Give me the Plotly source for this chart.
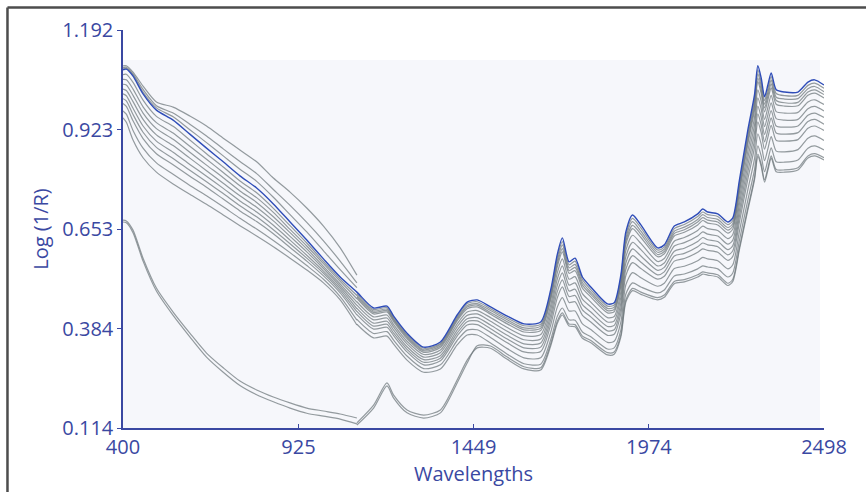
import plotly.graph_objects as go

# ---------------- data ----------------
VIS_NM = [400, 410, 430, 460, 500, 550, 600, 650, 700, 750, 800, 850, 900, 950, 1000, 1050, 1100]
NIR_NM = [1100, 1150, 1190, 1210, 1250, 1300, 1350, 1400, 1430, 1460, 1500, 1550, 1600, 1650, 1680,
          1700, 1715, 1735, 1753, 1775, 1800, 1850, 1870, 1890, 1905, 1925, 1950, 2000, 2020, 2050,
          2080, 2120, 2135, 2150, 2180, 2210, 2225, 2245, 2270, 2290, 2300, 2310, 2320, 2330, 2340,
          2355, 2380, 2420, 2450, 2470, 2498]

X_TICKS = [400, 925, 1449, 1974, 2498]
X_TICK_LABELS = ["400", "925", "1449", "1974", "2498"]
Y_TICKS = [0.114, 0.3835, 0.653, 0.9225, 1.192]
Y_TICK_LABELS = ["0.114", "0.384", "0.653", "0.923", "1.192"]

# highlighted (blue) spectrum
BLUE_VIS = [1.084, 1.086, 1.067, 1.019, 0.975, 0.948, 0.910, 0.872, 0.835, 0.797, 0.764, 0.721, 0.672,
            0.623, 0.572, 0.523, 0.482]
BLUE_NIR = [0.482, 0.439, 0.444, 0.417, 0.371, 0.333, 0.347, 0.420, 0.455, 0.461, 0.442, 0.417, 0.396,
            0.401, 0.488, 0.585, 0.629, 0.564, 0.574, 0.523, 0.496, 0.450, 0.453, 0.528, 0.645, 0.691,
            0.664, 0.602, 0.610, 0.661, 0.672, 0.694, 0.707, 0.699, 0.694, 0.672, 0.683, 0.786, 0.921,
            1.016, 1.095, 1.062, 1.011, 1.043, 1.076, 1.030, 1.024, 1.024, 1.051, 1.057, 1.043]

# visible-range spectra (400-1100 nm)
VIS_A = [1.095, 1.095, 1.078, 1.040, 0.997, 0.983, 0.959, 0.932, 0.899, 0.867, 0.835, 0.791, 0.753, 0.710, 0.661, 0.602, 0.528]
VIS_B = [1.090, 1.091, 1.073, 1.031, 0.987, 0.967, 0.937, 0.905, 0.870, 0.836, 0.803, 0.760, 0.717, 0.671, 0.621, 0.566, 0.507]
VIS_C = [1.087, 1.088, 1.070, 1.024, 0.981, 0.957, 0.922, 0.887, 0.851, 0.815, 0.782, 0.739, 0.692, 0.645, 0.594, 0.543, 0.494]
VIS_D = [1.071, 1.072, 1.050, 1.002, 0.958, 0.931, 0.894, 0.857, 0.821, 0.783, 0.751, 0.709, 0.662, 0.615, 0.565, 0.517, 0.473]
VIS_E = [1.058, 1.057, 1.032, 0.984, 0.941, 0.913, 0.877, 0.842, 0.806, 0.770, 0.738, 0.698, 0.652, 0.607, 0.559, 0.511, 0.464]
VIS_F = [1.045, 1.043, 1.015, 0.967, 0.925, 0.896, 0.861, 0.826, 0.792, 0.756, 0.725, 0.686, 0.643, 0.599, 0.552, 0.504, 0.455]
VIS_G = [1.032, 1.028, 0.998, 0.950, 0.908, 0.879, 0.845, 0.811, 0.777, 0.743, 0.712, 0.675, 0.633, 0.591, 0.546, 0.498, 0.446]
VIS_H = [1.019, 1.014, 0.980, 0.932, 0.891, 0.861, 0.828, 0.796, 0.763, 0.729, 0.699, 0.663, 0.623, 0.582, 0.539, 0.492, 0.437]
VIS_I = [1.006, 1.000, 0.963, 0.915, 0.874, 0.844, 0.812, 0.781, 0.749, 0.716, 0.686, 0.651, 0.613, 0.574, 0.533, 0.486, 0.429]
VIS_J = [0.993, 0.985, 0.946, 0.898, 0.857, 0.827, 0.796, 0.766, 0.734, 0.702, 0.673, 0.640, 0.603, 0.566, 0.526, 0.480, 0.420]
VIS_K = [0.973, 0.964, 0.920, 0.872, 0.832, 0.801, 0.771, 0.743, 0.713, 0.682, 0.653, 0.622, 0.589, 0.554, 0.517, 0.470, 0.406]
VIS_L = [0.954, 0.942, 0.894, 0.846, 0.807, 0.775, 0.747, 0.720, 0.691, 0.662, 0.634, 0.605, 0.574, 0.542, 0.507, 0.461, 0.393]
VIS_LOW1 = [0.677, 0.675, 0.650, 0.574, 0.493, 0.428, 0.371, 0.317, 0.277, 0.241, 0.217, 0.198, 0.182, 0.168, 0.160, 0.152, 0.141]
VIS_LOW2 = [0.672, 0.670, 0.643, 0.566, 0.485, 0.419, 0.361, 0.306, 0.265, 0.229, 0.204, 0.185, 0.168, 0.154, 0.146, 0.138, 0.125]

# near-infrared spectra (1100-2498 nm)
NIR_G1 = [0.478, 0.435, 0.440, 0.413, 0.367, 0.330, 0.343, 0.416, 0.451, 0.456, 0.437, 0.412, 0.391, 0.395, 0.481, 0.577, 0.619,
          0.556, 0.566, 0.516, 0.489, 0.444, 0.447, 0.521, 0.637, 0.682, 0.656, 0.596, 0.604, 0.654, 0.665, 0.687, 0.699, 0.692,
          0.687, 0.665, 0.676, 0.778, 0.911, 1.006, 1.084, 1.051, 1.001, 1.033, 1.066, 1.020, 1.014, 1.015, 1.042, 1.048, 1.034]
NIR_G2 = [0.473, 0.431, 0.436, 0.409, 0.364, 0.326, 0.340, 0.412, 0.446, 0.451, 0.432, 0.407, 0.385, 0.390, 0.474, 0.568, 0.610,
          0.548, 0.557, 0.508, 0.482, 0.438, 0.441, 0.513, 0.628, 0.673, 0.647, 0.590, 0.598, 0.647, 0.658, 0.679, 0.692, 0.684,
          0.679, 0.657, 0.668, 0.770, 0.902, 0.996, 1.073, 1.041, 0.991, 1.023, 1.056, 1.010, 1.005, 1.006, 1.033, 1.039, 1.025]
NIR_G3 = [0.469, 0.427, 0.432, 0.406, 0.360, 0.323, 0.336, 0.408, 0.442, 0.447, 0.427, 0.402, 0.380, 0.384, 0.468, 0.560, 0.600,
          0.540, 0.549, 0.501, 0.476, 0.432, 0.435, 0.506, 0.620, 0.663, 0.639, 0.584, 0.592, 0.641, 0.651, 0.672, 0.684, 0.677,
          0.672, 0.650, 0.661, 0.762, 0.892, 0.986, 1.062, 1.030, 0.981, 1.013, 1.046, 1.001, 0.995, 0.996, 1.024, 1.030, 1.017]
NIR_G4 = [0.465, 0.423, 0.428, 0.402, 0.356, 0.319, 0.332, 0.404, 0.437, 0.442, 0.422, 0.396, 0.374, 0.378, 0.461, 0.551, 0.591,
          0.533, 0.540, 0.493, 0.469, 0.426, 0.429, 0.498, 0.611, 0.654, 0.630, 0.578, 0.586, 0.634, 0.644, 0.664, 0.676, 0.669,
          0.664, 0.642, 0.653, 0.753, 0.883, 0.975, 1.052, 1.020, 0.970, 1.002, 1.035, 0.991, 0.986, 0.987, 1.015, 1.021, 1.008]
NIR_G5 = [0.456, 0.415, 0.420, 0.394, 0.349, 0.313, 0.325, 0.396, 0.428, 0.432, 0.413, 0.386, 0.364, 0.367, 0.447, 0.535, 0.572,
          0.517, 0.524, 0.478, 0.455, 0.413, 0.416, 0.483, 0.595, 0.636, 0.614, 0.565, 0.573, 0.620, 0.630, 0.649, 0.661, 0.654,
          0.649, 0.627, 0.638, 0.737, 0.864, 0.955, 1.030, 0.999, 0.950, 0.982, 1.015, 0.971, 0.967, 0.969, 0.997, 1.003, 0.990]
NIR_G6 = [0.447, 0.407, 0.412, 0.387, 0.342, 0.306, 0.318, 0.388, 0.419, 0.423, 0.403, 0.376, 0.353, 0.355, 0.434, 0.518, 0.553,
          0.501, 0.507, 0.463, 0.442, 0.401, 0.404, 0.468, 0.578, 0.617, 0.597, 0.553, 0.561, 0.607, 0.616, 0.634, 0.645, 0.639,
          0.634, 0.612, 0.623, 0.721, 0.845, 0.935, 1.008, 0.978, 0.930, 0.962, 0.995, 0.952, 0.948, 0.950, 0.979, 0.985, 0.973]
NIR_G7 = [0.438, 0.398, 0.403, 0.379, 0.334, 0.299, 0.310, 0.379, 0.410, 0.413, 0.393, 0.365, 0.342, 0.344, 0.420, 0.501, 0.534,
          0.485, 0.490, 0.448, 0.428, 0.389, 0.392, 0.453, 0.561, 0.599, 0.580, 0.541, 0.549, 0.593, 0.601, 0.619, 0.630, 0.624,
          0.619, 0.597, 0.608, 0.704, 0.826, 0.914, 0.986, 0.956, 0.909, 0.941, 0.974, 0.932, 0.929, 0.932, 0.961, 0.967, 0.955]
NIR_G8 = [0.430, 0.390, 0.395, 0.371, 0.327, 0.292, 0.303, 0.371, 0.402, 0.404, 0.383, 0.355, 0.331, 0.333, 0.407, 0.484, 0.515,
          0.470, 0.473, 0.434, 0.415, 0.377, 0.380, 0.439, 0.544, 0.581, 0.563, 0.529, 0.537, 0.580, 0.587, 0.605, 0.615, 0.610,
          0.605, 0.583, 0.594, 0.688, 0.807, 0.894, 0.965, 0.935, 0.889, 0.921, 0.954, 0.913, 0.910, 0.914, 0.944, 0.950, 0.937]
NIR_G9 = [0.421, 0.382, 0.387, 0.364, 0.320, 0.285, 0.296, 0.363, 0.393, 0.394, 0.373, 0.345, 0.320, 0.321, 0.393, 0.467, 0.496,
          0.454, 0.456, 0.419, 0.401, 0.365, 0.368, 0.424, 0.527, 0.562, 0.546, 0.517, 0.525, 0.566, 0.573, 0.590, 0.599, 0.595,
          0.590, 0.568, 0.579, 0.672, 0.788, 0.874, 0.943, 0.914, 0.869, 0.901, 0.934, 0.893, 0.891, 0.895, 0.926, 0.932, 0.920]
NIR_G10 = [0.408, 0.370, 0.375, 0.352, 0.309, 0.275, 0.285, 0.351, 0.379, 0.380, 0.359, 0.329, 0.304, 0.304, 0.373, 0.442, 0.467,
           0.431, 0.431, 0.396, 0.381, 0.346, 0.349, 0.401, 0.502, 0.535, 0.521, 0.498, 0.506, 0.546, 0.552, 0.567, 0.576, 0.572,
           0.567, 0.545, 0.556, 0.647, 0.759, 0.843, 0.911, 0.883, 0.838, 0.870, 0.903, 0.864, 0.862, 0.868, 0.899, 0.905, 0.893]
NIR_G11 = [0.395, 0.358, 0.363, 0.341, 0.298, 0.265, 0.274, 0.339, 0.366, 0.366, 0.344, 0.314, 0.288, 0.287, 0.353, 0.417, 0.439,
           0.407, 0.406, 0.374, 0.361, 0.328, 0.331, 0.379, 0.477, 0.507, 0.496, 0.480, 0.488, 0.526, 0.531, 0.545, 0.553, 0.550,
           0.545, 0.523, 0.534, 0.623, 0.731, 0.813, 0.878, 0.851, 0.808, 0.840, 0.873, 0.835, 0.834, 0.840, 0.872, 0.878, 0.867]
NIR_LOW1 = [0.128, 0.176, 0.236, 0.203, 0.163, 0.149, 0.163, 0.244, 0.298, 0.331, 0.330, 0.300, 0.274, 0.271, 0.336, 0.398, 0.420,
            0.390, 0.388, 0.357, 0.345, 0.312, 0.314, 0.360, 0.455, 0.486, 0.476, 0.461, 0.468, 0.505, 0.510, 0.523, 0.531, 0.528,
            0.523, 0.500, 0.511, 0.598, 0.704, 0.786, 0.850, 0.823, 0.780, 0.812, 0.845, 0.808, 0.807, 0.813, 0.845, 0.851, 0.840]
NIR_LOW2 = [0.122, 0.168, 0.228, 0.195, 0.155, 0.141, 0.155, 0.236, 0.290, 0.337, 0.336, 0.306, 0.280, 0.277, 0.342, 0.404, 0.426,
            0.396, 0.394, 0.363, 0.351, 0.318, 0.320, 0.366, 0.461, 0.492, 0.482, 0.467, 0.474, 0.511, 0.516, 0.529, 0.537, 0.534,
            0.529, 0.506, 0.517, 0.604, 0.710, 0.792, 0.856, 0.829, 0.786, 0.818, 0.851, 0.814, 0.813, 0.819, 0.851, 0.857, 0.846]

# ---------------- styling ----------------
AXIS_BLUE = "#3a48a2"
GRAY = "rgba(108,118,122,0.72)"
HILITE = "#2f4db8"
FONT = "Open Sans"
FONT_SIZE = 20

vis_series = [VIS_A, VIS_B, VIS_C, VIS_D, VIS_E, VIS_F, VIS_G, VIS_H, VIS_I, VIS_J, VIS_K, VIS_L, VIS_LOW1, VIS_LOW2]
nir_series = [NIR_G1, NIR_G2, NIR_G3, NIR_G4, NIR_G5, NIR_G6, NIR_G7, NIR_G8, NIR_G9, NIR_G10, NIR_G11, NIR_LOW1, NIR_LOW2]
for s in vis_series + [BLUE_VIS]:
    assert len(s) == len(VIS_NM), len(s)
for s in nir_series + [BLUE_NIR]:
    assert len(s) == len(NIR_NM), len(s)

gray_line = dict(color=GRAY, width=1.2, shape="spline", smoothing=0.7)

fig = go.Figure()
for s in vis_series:
    fig.add_trace(go.Scatter(x=VIS_NM, y=s, mode="lines", line=gray_line,
                             hoverinfo="skip", showlegend=False))
for s in nir_series:
    fig.add_trace(go.Scatter(x=NIR_NM, y=s, mode="lines", line=gray_line,
                             hoverinfo="skip", showlegend=False))
fig.add_trace(go.Scatter(x=VIS_NM + NIR_NM[1:], y=BLUE_VIS + BLUE_NIR[1:], mode="lines",
                         line=dict(color=HILITE, width=1.4, shape="spline", smoothing=0.7),
                         hoverinfo="skip", showlegend=False))

fig.update_layout(
    width=866, height=492,
    margin=dict(l=123, r=42, t=30, b=64),
    paper_bgcolor="white", plot_bgcolor="white",
    font=dict(family=FONT, color=AXIS_BLUE),
    shapes=[
        # light shaded panel behind the spectra
        dict(type="rect", xref="x", yref="y", x0=400, x1=2486, y0=0.114, y1=1.111,
             fillcolor="#f6f7fb", line=dict(width=0), layer="below"),
        # outer frame (top and left)
        dict(type="line", xref="paper", yref="paper", x0=-0.1648, x1=1.07, y0=1.0565, y1=1.0565,
             line=dict(color="#4d4d4d", width=2.5)),
        dict(type="line", xref="paper", yref="paper", x0=-0.1648, x1=-0.1648, y0=1.0565, y1=-0.17,
             line=dict(color="#4d4d4d", width=2.5)),
    ],
)

fig.update_xaxes(
    range=[400, 2498], tickvals=X_TICKS, ticktext=X_TICK_LABELS,
    showline=True, linecolor=AXIS_BLUE, linewidth=1.5,
    ticks="inside", ticklen=4, tickcolor=AXIS_BLUE, tickwidth=1,
    tickfont=dict(family=FONT, size=FONT_SIZE, color=AXIS_BLUE),
    showgrid=False, zeroline=False,
    title=dict(text="Wavelengths", font=dict(family=FONT, size=FONT_SIZE, color=AXIS_BLUE), standoff=2),
)
fig.update_yaxes(
    range=[0.114, 1.192], tickvals=Y_TICKS, ticktext=Y_TICK_LABELS,
    showline=True, linecolor=AXIS_BLUE, linewidth=1.5,
    ticks="outside", ticklen=4, tickcolor=AXIS_BLUE, tickwidth=1,
    tickfont=dict(family=FONT, size=FONT_SIZE, color=AXIS_BLUE),
    showgrid=False, zeroline=False,
    title=dict(text="Log (1/R)", font=dict(family=FONT, size=FONT_SIZE, color=AXIS_BLUE), standoff=8),
)

fig.write_html("out.html")
